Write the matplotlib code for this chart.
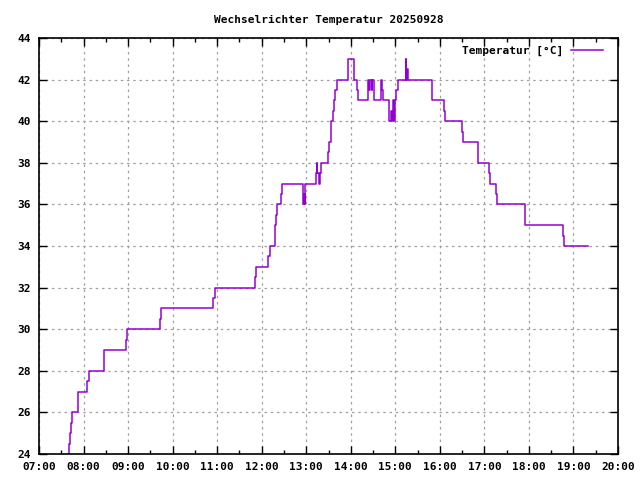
import matplotlib
matplotlib.use("Agg")
import matplotlib.pyplot as plt
import matplotlib.dates as mdates
import pandas as pd

# change points of the logged temperature (time, value after the change)
times = ["07:39", "07:40", "07:42", "07:43", "07:45", "07:52", "07:53", "08:05", "08:07",
         "08:28", "08:57", "08:59", "09:43", "09:44", "10:55", "10:57", "11:51", "11:52",
         "12:09", "12:11", "12:18", "12:19", "12:20", "12:26", "12:27", "12:55", "12:56",
         "12:57", "12:58", "12:59", "13:13", "13:14", "13:15", "13:17", "13:18", "13:20",
         "13:29", "13:31", "13:33", "13:34", "13:36", "13:38", "13:39", "13:41", "13:56",
         "14:04", "14:08", "14:10", "14:23", "14:25", "14:26", "14:28", "14:29", "14:31",
         "14:41", "14:42", "14:44", "14:51", "14:52", "14:54", "14:55", "14:57", "14:58",
         "14:59", "15:01", "15:03", "15:14", "15:15", "15:16", "15:17", "15:49", "16:05",
         "16:07", "16:30", "16:31", "16:51", "17:06", "17:07", "17:16", "17:17", "17:55",
         "18:46", "18:47", "19:19"]
temps = [24.0, 24.5, 25.0, 25.5, 26.0, 26.5, 27.0, 27.5, 28.0,
         29.0, 29.5, 30.0, 30.5, 31.0, 31.5, 32.0, 32.5, 33.0,
         33.5, 34.0, 35.0, 35.5, 36.0, 36.5, 37.0, 36.5, 36.0,
         36.5, 36.0, 37.0, 37.5, 38.0, 37.5, 37.0, 37.5, 38.0,
         38.5, 39.0, 39.5, 40.0, 40.5, 41.0, 41.5, 42.0, 43.0,
         42.0, 41.5, 41.0, 42.0, 41.5, 42.0, 41.5, 42.0, 41.0,
         42.0, 41.5, 41.0, 40.5, 40.0, 40.5, 40.0, 41.0, 40.0,
         41.0, 41.5, 42.0, 43.0, 42.0, 42.5, 42.0, 41.0, 40.5,
         40.0, 39.5, 39.0, 38.0, 37.5, 37.0, 36.5, 36.0, 35.0,
         34.5, 34.0, 34.0]

day = "2025-09-28 "
t = pd.to_datetime([day + s for s in times])
xticks = pd.date_range(day + "07:00", day + "20:00", freq="1h")
xminor = pd.date_range(day + "07:30", day + "19:30", freq="1h")
yticks = list(range(24, 45, 2))

plt.rcParams["font.family"] = ["DejaVu Sans Mono"]
plt.rcParams["font.weight"] = "bold"
plt.rcParams["font.size"] = 8

fig = plt.figure(figsize=(6.4, 4.8), dpi=100)
ax = fig.add_axes([39 / 640, 26 / 480, 579 / 640, 416 / 480])

ax.step(t, temps, where="post", color="#9400d3", lw=1.1, label="Temperatur [°C]")

ax.set_xlim(xticks[0], xticks[-1])
ax.set_ylim(24, 44)
ax.set_xticks(xticks)
ax.set_xticks(xminor, minor=True)
ax.xaxis.set_major_formatter(mdates.DateFormatter("%H:%M"))
ax.set_yticks(yticks)

ax.grid(True, which="major", color="#a0a0a0", linestyle=(0, (2, 3)), lw=0.9)
ax.tick_params(which="both", direction="in", top=True, right=True, width=1)
ax.tick_params(which="major", length=6, pad=6)
ax.tick_params(which="minor", length=3)
for s in ax.spines.values():
    s.set_linewidth(1.2)

ax.set_title("Wechselrichter Temperatur 20250928", fontsize=8, fontweight="bold", pad=11)
leg = ax.legend(loc="upper right", frameon=False, handlelength=2.9, handletextpad=0.7,
                markerfirst=False, borderaxespad=0.3, borderpad=0.4,
                bbox_to_anchor=(0.988, 1.0), fontsize=8)

fig.savefig("out.png", dpi=100)
